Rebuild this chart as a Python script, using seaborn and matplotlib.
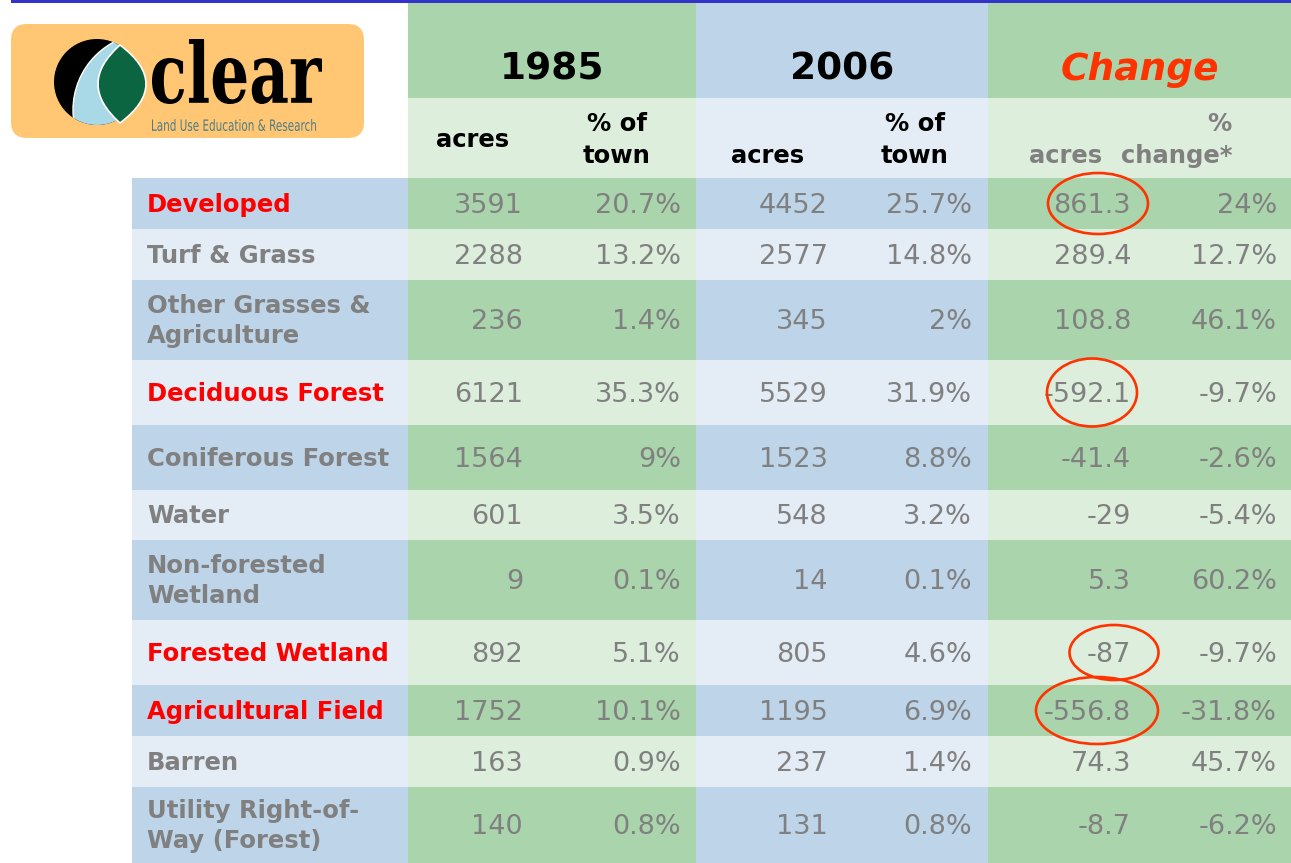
import numpy as np
import matplotlib.pyplot as plt
import seaborn as sns
from matplotlib.colors import ListedColormap
from matplotlib.patches import Ellipse, Circle, FancyBboxPatch, PathPatch, Rectangle
from matplotlib.path import Path
from matplotlib.textpath import TextPath
from matplotlib.font_manager import FontProperties
from matplotlib.transforms import Affine2D

# Table data
categories = ['Developed', 'Turf & Grass', 'Other Grasses &\nAgriculture', 'Deciduous Forest',
              'Coniferous Forest', 'Water', 'Non-forested\nWetland', 'Forested Wetland',
              'Agricultural Field', 'Barren', 'Utility Right-of-\nWay (Forest)']
highlighted = ['Developed', 'Deciduous Forest', 'Forested Wetland', 'Agricultural Field']
acres_1985 = [3591, 2288, 236, 6121, 1564, 601, 9, 892, 1752, 163, 140]
pct_1985 = [20.7, 13.2, 1.4, 35.3, 9, 3.5, 0.1, 5.1, 10.1, 0.9, 0.8]
acres_2006 = [4452, 2577, 345, 5529, 1523, 548, 14, 805, 1195, 237, 131]
pct_2006 = [25.7, 14.8, 2, 31.9, 8.8, 3.2, 0.1, 4.6, 6.9, 1.4, 0.8]
change_acres = [861.3, 289.4, 108.8, -592.1, -41.4, -29, 5.3, -87, -556.8, 74.3, -8.7]
change_pct = [24, 12.7, 46.1, -9.7, -2.6, -5.4, 60.2, -9.7, -31.8, 45.7, -6.2]
group_titles = ['1985', '2006', 'Change']

# Layout in pixels (1 data unit = 1 px)
W, H = 1291, 863
row_heights = [51, 51, 80, 65, 65, 50, 80, 65, 51, 51, 76]
header_edges = [0, 98, 178]
band_edges = [132, 408, 696, 988, 1291]
num_right = [523, 681, 828, 972, 1131, 1277]
# hand drawn circles: (x centre, width, height)
circle_boxes = {'Developed': (1098, 100, 61), 'Deciduous Forest': (1092, 90, 68),
                'Forested Wetland': (1114, 89, 55), 'Agricultural Field': (1097, 122, 67)}

dark_blue, light_blue = '#BDD4E9', '#E4ECF6'
dark_green, light_green = '#AAD4AC', '#DDEEDC'
gray, red, orange = '#808080', '#FF0000', '#FF3300'

sns.set_theme(style='white')
plt.rcParams['font.family'] = ['DejaVu Sans']

fig = plt.figure(figsize=(W / 100, H / 100), dpi=100)
ax = fig.add_axes([0, 0, 1, 1])
ax.set_xlim(0, W)
ax.set_ylim(H, 0)
ax.axis('off')

# Cell backgrounds: 0 dark blue, 1 light blue, 2 dark green, 3 light green, 4 white
y_edges = np.concatenate([header_edges, header_edges[-1] + np.cumsum(row_heights)])
codes = []
for r in range(len(y_edges) - 1):
    if r < 2:
        codes.append([4, 2 + r, r, 2 + r])
    else:
        s = (r - 2) % 2  # 0 = dark, 1 = light
        codes.append([s, 2 + s, s, 2 + s])
cmap = ListedColormap([dark_blue, light_blue, dark_green, light_green, 'white'])
ax.pcolormesh(band_edges, y_edges, np.array(codes), cmap=cmap, vmin=-0.5, vmax=4.5)

# top rule
ax.add_patch(Rectangle((11, 0), W - 11, 3.5, color='#3333CC', lw=0, zorder=5))

# Logo
ax.add_patch(FancyBboxPatch((11, 24), 353, 114, boxstyle='round,pad=0,rounding_size=16',
                            fc='#FFC774', ec='none'))
disc = Circle((97, 82), 43, fc='black', ec='none')
ax.add_patch(disc)
blue_part = Circle((150, 110), 77, fc='#A9D9E6', ec='white', lw=1)
ax.add_patch(blue_part)
blue_part.set_clip_path(disc)
leaf = Path([(120, 45), (172, 84), (120, 123), (76, 84), (120, 45)],
            [Path.MOVETO, Path.CURVE3, Path.CURVE3, Path.CURVE3, Path.CURVE3])
ax.add_patch(PathPatch(leaf, fc='#0A6540', ec='white', lw=1.2))


def fitted_text(s, x0, x1, top, base, color, weight, family):
    tp = TextPath((0, 0), s, size=1, prop=FontProperties(family=family, weight=weight))
    ext = tp.get_extents()
    sx = (x1 - x0) / ext.width
    sy = (base - top) / ext.height
    tr = Affine2D().translate(-ext.x0, -ext.y0).scale(sx, -sy).translate(x0, base)
    ax.add_patch(PathPatch(tp, transform=tr + ax.transData, fc=color, ec='none'))


fitted_text('clear', 152, 322, 39, 104, 'black', 'bold', 'DejaVu Serif')
fitted_text('Land Use Education & Research', 152, 316, 119, 131, '#4E7C84', 'normal', 'DejaVu Sans')

# Group titles
for t, x0, x1 in zip(group_titles, band_edges[1:-1], band_edges[2:]):
    is_change = t == 'Change'
    ax.text((x0 + x1) / 2, 70, t, ha='center', va='center', fontsize=27, fontweight='bold',
            fontstyle='italic' if is_change else 'normal', color=orange if is_change else 'black')

# Sub headers
sub = dict(fontsize=17.5, fontweight='bold', va='center', linespacing=1.45)
ax.text(473, 140, 'acres', ha='center', color='black', **sub)
ax.text(617, 140, '% of\ntown', ha='center', color='black', **sub)
ax.text(768, 156, 'acres', ha='center', color='black', **sub)
ax.text(915, 140, '% of\ntown', ha='center', color='black', **sub)
ax.text(1066, 156, 'acres', ha='center', color=gray, **sub)
ax.text(1232, 140, '%\nchange*', ha='right', multialignment='right', color=gray, **sub)

# Rows
centers = (y_edges[2:-1] + y_edges[3:]) / 2
columns = [
    [f'{v:g}' for v in acres_1985],
    [f'{v:g}%' for v in pct_1985],
    [f'{v:g}' for v in acres_2006],
    [f'{v:g}%' for v in pct_2006],
    [f'{v:g}' for v in change_acres],
    [f'{v:g}%' for v in change_pct],
]
for i, (cat, yc) in enumerate(zip(categories, centers)):
    hot = cat in highlighted
    ax.text(147, yc + 1, cat, ha='left', va='center', fontsize=17.5, fontweight='bold',
            color=red if hot else gray, linespacing=1.35)
    for col, xr in zip(columns, num_right):
        ax.text(xr, yc + 2, col[i], ha='right', va='center', fontsize=19.5, color=gray)
    if hot:
        cx, w, h = circle_boxes[cat]
        ax.add_patch(Ellipse((cx, yc), w, h, fc='none', ec=orange, lw=1.9, zorder=6))

fig.savefig('out.png', dpi=100)
